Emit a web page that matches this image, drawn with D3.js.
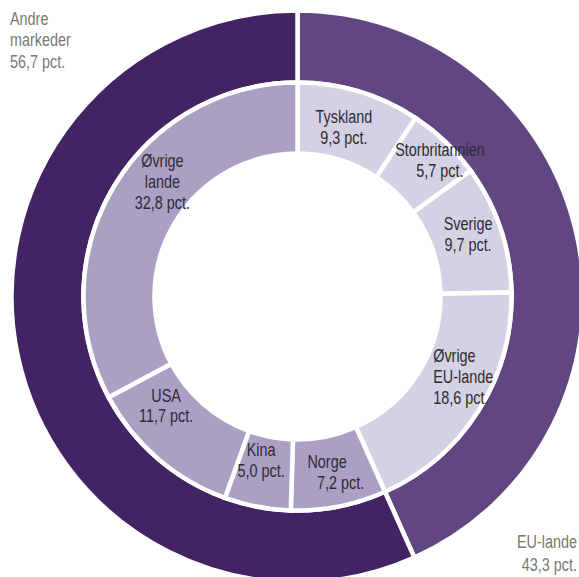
<!DOCTYPE html>
<html>
<head>
<meta charset="utf-8">
<script src="https://cdn.jsdelivr.net/npm/d3@7"></script>
<style>
  html, body { margin: 0; padding: 0; background: #fff; }
  svg { display: block; }
  text { font-family: "Liberation Sans", Arial, sans-serif; }
</style>
</head>
<body>
<svg id="chart" width="579" height="577"></svg>
<script>
// Export shares: two main groups (outer ring) and markets (inner ring)
const groupNames  = ["EU-lande", "Andre markeder"];
const groupValues = [43.3, 56.7];

const marketNames  = ["Tyskland", "Storbritannien", "Sverige", "Øvrige EU-lande",
                      "Norge", "Kina", "USA", "Øvrige lande"];
const marketValues = [9.3, 5.7, 9.7, 18.6, 7.2, 5.0, 11.7, 32.8];
const marketGroup  = [0, 0, 0, 0, 1, 1, 1, 1];

// Lines of text shown inside each inner slice
const marketLabelLines = [
  ["Tyskland"], ["Storbritannien"], ["Sverige"], ["Øvrige", "EU-lande"],
  ["Norge"], ["Kina"], ["USA"], ["Øvrige", "lande"]
];

const fmt = v => d3.format(".1f")(v).replace(".", ",") + " pct.";

const svg = d3.select("#chart");
const cx = 297.5, cy = 296.5;
const g = svg.append("g").attr("transform", `translate(${cx},${cy})`);

const outerColors = ["#614682", "#432364"];
const innerColors = ["#d5d1e5", "#aaa0c4"];

const pie = d3.pie().sort(null).value(d => d.value);

const outerData = pie(groupNames.map((n, i) => ({ name: n, value: groupValues[i], idx: i })));
const innerData = pie(marketNames.map((n, i) => ({ name: n, value: marketValues[i], idx: i })));

const outerArc = d3.arc().innerRadius(214).outerRadius(286);
const innerArc = d3.arc().innerRadius(143).outerRadius(214);

g.selectAll("path.outer").data(outerData).join("path")
  .attr("class", "outer")
  .attr("d", outerArc)
  .attr("fill", d => outerColors[d.data.idx])
  .attr("stroke", "#fff").attr("stroke-width", 4.5).attr("stroke-linejoin", "miter");

g.selectAll("path.inner").data(innerData).join("path")
  .attr("class", "inner")
  .attr("d", innerArc)
  .attr("fill", d => innerColors[marketGroup[d.data.idx]])
  .attr("stroke", "#fff").attr("stroke-width", 4.5).attr("stroke-linejoin", "miter");

// Condensed look: regular sans squeezed horizontally
const squeeze = 0.8;
function multiLine(parent, x, y, lines, opts) {
  const t = parent.append("text")
    .attr("transform", `translate(${x},${y}) scale(${squeeze},1)`)
    .attr("text-anchor", opts.anchor)
    .attr("fill", opts.fill)
    .attr("font-size", opts.size);
  lines.forEach((ln, k) => {
    t.append("tspan")
      .attr("x", ((opts.shift && opts.shift[k]) || 0) / squeeze)
      .attr("y", k * opts.lineH)
      .text(ln);
  });
  return t;
}

// Label placement relative to each slice centroid (first baseline), with per-line shifts
const labelPlacement = {
  "Tyskland":        { dx: -5,  dy: -2.6,  anchor: "middle", shift: [0, 0] },
  "Storbritannien":  { dx: 19,  dy: -11.5, anchor: "middle", shift: [0, 0] },
  "Sverige":         { dx: 1.3, dy: -9.7,  anchor: "middle", shift: [0, 0] },
  "Øvrige EU-lande": { dx: -15, dy: -30,   anchor: "start",  shift: [0, 0, 0] },
  "Norge":           { dx: -5,  dy: -3.6,  anchor: "middle", shift: [0, 13.5] },
  "Kina":            { dx: -3,  dy: -15.8, anchor: "middle", shift: [0, 0] },
  "USA":             { dx: -14.6, dy: -30, anchor: "middle", shift: [0, 0] },
  "Øvrige lande":    { dx: 18,  dy: -37.6, anchor: "middle", shift: [0, 0, 0] }
};

innerData.forEach(d => {
  const i = d.data.idx;
  const p = labelPlacement[d.data.name];
  const [x, y] = innerArc.centroid(d);
  const lines = marketLabelLines[i].concat([fmt(d.data.value)]);
  multiLine(g, x + p.dx, y + p.dy, lines,
    { anchor: p.anchor, fill: "#2e2b33", size: 18, lineH: 20.8, shift: p.shift });
});

// Outer group labels in the corners
multiLine(svg, 10, 25, ["Andre", "markeder", fmt(groupValues[1])],
  { anchor: "start", fill: "#79796d", size: 18, lineH: 21.5 });
multiLine(svg, 577, 548, [groupNames[0], fmt(groupValues[0])],
  { anchor: "end", fill: "#79796d", size: 18, lineH: 23 });
</script>
</body>
</html>
